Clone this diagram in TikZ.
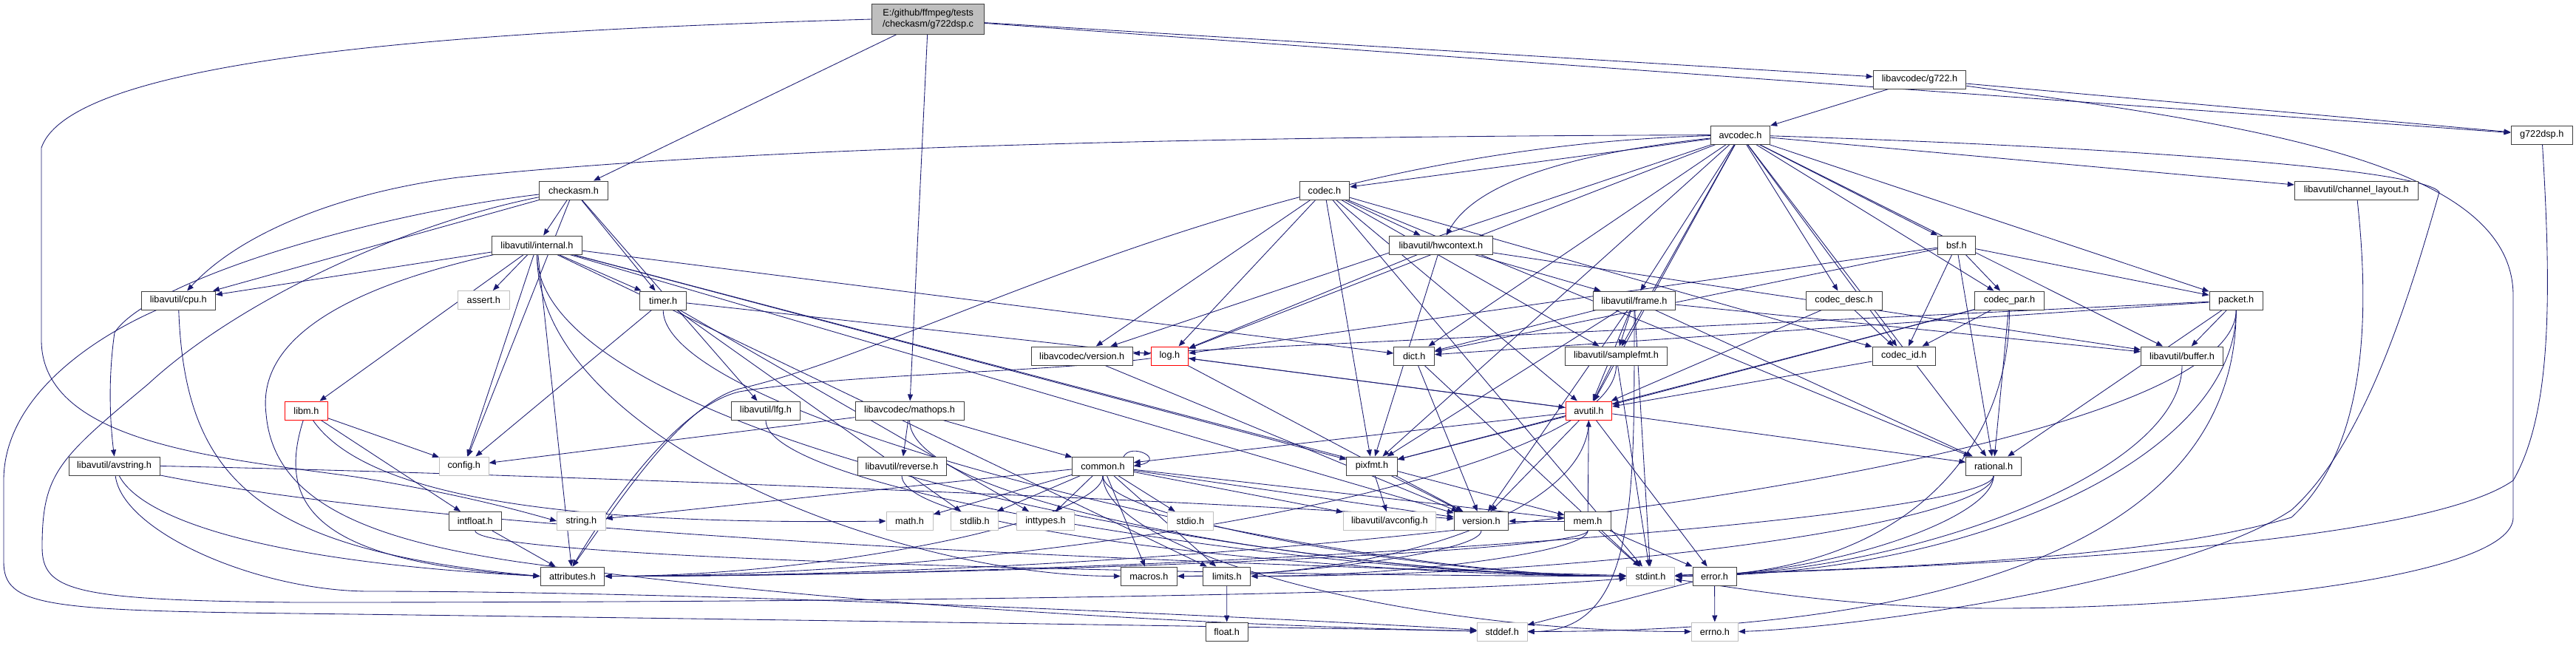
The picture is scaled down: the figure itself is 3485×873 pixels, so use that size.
\documentclass[tikz,border=0pt]{standalone}
\usepackage{fontspec}
\setmainfont{Liberation Sans}
\usetikzlibrary{arrows.meta,calc}
\definecolor{edgec}{HTML}{191970}
\definecolor{nodeborder}{HTML}{404040}
\definecolor{graybord}{HTML}{BFBFBF}
\definecolor{mainfill}{HTML}{BFBFBF}
\newcommand\nodefont{\fontsize{12.7bp}{15bp}\selectfont}
% edge entering target from the left / right, nearly horizontal
\newcommand\eL[4]{\draw[e] (#1) .. controls ($(#1.south)+(0,#3)$) and ($(#2.west)+(-#4,0)$) .. (#2.west);}
\newcommand\eR[4]{\draw[e] (#1) .. controls ($(#1.south)+(0,#3)$) and ($(#2.east)+(#4,0)$) .. (#2.east);}
\pgfdeclarelayer{bgl}
\pgfdeclarelayer{edges}
\pgfsetlayers{bgl,edges,main}
\begin{document}
\begin{tikzpicture}[x=1bp,y=-1bp,
  nb/.style={draw=nodeborder, line width=1bp, fill=white, inner sep=0pt, minimum height=25bp, font=\nodefont, text=black},
  gb/.style={nb, draw=graybord},
  rb/.style={nb, draw=red},
  e/.style={draw=edgec, line width=0.85bp, -{Triangle[length=9bp,width=7bp]}}]
\begin{pgfonlayer}{bgl}
\fill[white] (0,0) rectangle (3485,873);
\end{pgfonlayer}
\useasboundingbox (0,0) rectangle (3485,873);
% nodes
\node[nb, fill=mainfill, minimum width=151.5bp, minimum height=40bp, align=center] (main) at (1255.6,26) {E:/github/ffmpeg/tests\\/checkasm/g722dsp.c};
\node[nb, minimum width=93.4bp] (checkasm) at (776,257.5) {checkasm.h};
\node[nb, minimum width=121.7bp] (internal) at (726.5,331.5) {libavutil/internal.h};
\node[gb, minimum width=69.7bp] (assert) at (654.3,406) {assert.h};
\node[nb, minimum width=62.8bp] (timer) at (897.2,406.5) {timer.h};
\node[nb, minimum width=99.9bp] (cpu) at (241.3,406.5) {libavutil/cpu.h};
\node[nb, minimum width=67.7bp] (codec) at (1791.9,257.5) {codec.h};
\node[nb, minimum width=139.3bp] (hwctx) at (1949.4,331.5) {libavutil/hwcontext.h};
\node[nb, minimum width=110.6bp] (frame) at (2210.9,406.5) {libavutil/frame.h};
\node[nb, minimum width=80.2bp] (avcodec) at (2354.5,182.5) {avcodec.h};
\node[nb, minimum width=125.5bp] (gsv) at (2597,107.5) {libavcodec/g722.h};
\node[nb, minimum width=50.5bp] (bsf) at (2646.8,331.5) {bsf.h};
\node[nb, minimum width=103bp] (cdesc) at (2494.6,406.5) {codec\_desc.h};
\node[nb, minimum width=93.7bp] (cpar) at (2718.5,406.5) {codec\_par.h};
\node[nb, minimum width=83.4bp] (gdsp) at (3438.7,182.5) {g722dsp.h};
\node[nb, minimum width=166.8bp] (chlayout) at (3187.7,257.5) {libavutil/channel\_layout.h};
\node[nb, minimum width=72.3bp] (packet) at (3025.2,406.5) {packet.h};
\node[nb, minimum width=111bp] (buffer) at (2952,481.5) {libavutil/buffer.h};
\node[nb, minimum width=123.2bp] (avstring) at (154.6,630.5) {libavutil/avstring.h};
\node[rb, minimum width=57.4bp] (libm) at (414.4,555.5) {libm.h};
\node[gb, minimum width=66.6bp] (config) at (627.8,630.5) {config.h};
\node[nb, minimum width=71.1bp] (intfloat) at (642.8,705) {intfloat.h};
\node[gb, minimum width=65.5bp] (string) at (786.4,705) {string.h};
\node[nb, minimum width=86.9bp] (attributes) at (774.5,779.5) {attributes.h};
\node[nb, minimum width=92.2bp] (lfg) at (1035.9,555.5) {libavutil/lfg.h};
\node[nb, minimum width=147bp] (mathops) at (1230.5,555.5) {libavcodec/mathops.h};
\node[nb, minimum width=120bp] (reverse) at (1220,630.5) {libavutil/reverse.h};
\node[nb, minimum width=137.3bp] (lcver) at (1463.7,481.5) {libavcodec/version.h};
\node[rb, minimum width=50.5bp] (log) at (1582.4,481.5) {log.h};
\node[nb, minimum width=82.3bp] (common) at (1492,630.5) {common.h};
\node[gb, minimum width=63.2bp] (math) at (1230.6,705) {math.h};
\node[gb, minimum width=64.3bp] (stdlib) at (1318.5,705) {stdlib.h};
\node[gb, minimum width=78.9bp] (inttypes) at (1414.5,705) {inttypes.h};
\node[gb, minimum width=61.2bp] (stdio) at (1610.4,705) {stdio.h};
\node[nb, minimum width=76.1bp] (macros) at (1554.4,779.5) {macros.h};
\node[nb, minimum width=64.3bp] (limits) at (1659.8,779.5) {limits.h};
\node[nb, minimum width=57.4bp] (float) at (1659.7,854.5) {float.h};
\node[nb, minimum width=54.7bp] (dict) at (1913.2,481.5) {dict.h};
\node[nb, minimum width=138.5bp] (samplefmt) at (2186.5,481.5) {libavutil/samplefmt.h};
\node[rb, minimum width=62.8bp] (avutil) at (2149.4,555.5) {avutil.h};
\node[nb, minimum width=68.1bp] (pixfmt) at (1856,630.5) {pixfmt.h};
\node[gb, minimum width=125.1bp] (avconfig) at (1879.9,705) {libavutil/avconfig.h};
\node[nb, minimum width=73.5bp] (version) at (2004,705) {version.h};
\node[nb, minimum width=62.4bp] (mem) at (2148.1,705) {mem.h};
\node[gb, minimum width=65.5bp] (stdint) at (2233,779.5) {stdint.h};
\node[nb, minimum width=59bp] (error) at (2319.5,779.5) {error.h};
\node[gb, minimum width=67.7bp] (stddef) at (2032.2,854.5) {stddef.h};
\node[gb, minimum width=63bp] (errno) at (2319.9,854.5) {errno.h};
\node[nb, minimum width=85.3bp] (codecid) at (2575.8,481.5) {codec\_id.h};
\node[nb, minimum width=74.6bp] (rational) at (2697.1,630.5) {rational.h};
% edges
\begin{pgfonlayer}{edges}
\foreach \s/\t in {main/checkasm, main/gsv, main/gdsp, main/mathops,
  checkasm/internal, checkasm/timer, checkasm/cpu, checkasm/config, checkasm/lfg,
  gsv/avcodec, gsv/gdsp,
  avcodec/samplefmt, avcodec/avutil, avcodec/buffer, avcodec/chlayout, avcodec/dict, avcodec/frame, avcodec/log, avcodec/pixfmt, avcodec/rational, avcodec/bsf, avcodec/codec, avcodec/cdesc, avcodec/cpar, avcodec/codecid, avcodec/packet, avcodec/lcver,
  internal/limits, internal/assert, internal/config, internal/attributes, internal/timer, internal/cpu, internal/dict, internal/mem, internal/pixfmt, internal/version, internal/libm,
  timer/config, timer/stdlib, timer/inttypes, timer/log,
  lcver/version, log/avutil, log/version,
  dict/stdint, dict/version,
  samplefmt/stdint, samplefmt/avutil,
  avutil/common, avutil/error, avutil/rational, avutil/version, avutil/log, avutil/pixfmt,
  pixfmt/avconfig, pixfmt/version,
  common/inttypes, common/limits, common/math, common/stdio, common/stdlib, common/string, common/macros, common/version, common/avconfig, common/mem,
  mem/stdint, mem/error, mem/avutil, mem/version,
  error/errno, error/stddef, limits/float,
  mathops/common, mathops/reverse, mathops/config,
  intfloat/attributes,
  libm/config, libm/intfloat,
  codec/stdint, codec/avutil, codec/hwctx, codec/log, codec/pixfmt, codec/rational, codec/samplefmt, codec/codecid, codec/lcver,
  hwctx/buffer, hwctx/frame, hwctx/log, hwctx/pixfmt,
  frame/stdint, frame/avutil, frame/buffer, frame/dict, frame/rational, frame/samplefmt, frame/pixfmt, frame/version,
  bsf/dict, bsf/log, bsf/rational, bsf/codecid, bsf/cpar, bsf/packet,
  cdesc/avutil, cdesc/codecid,
  cpar/avutil, cpar/rational, cpar/pixfmt, cpar/codecid,
  packet/buffer, packet/dict, packet/rational, packet/lcver,
  codecid/avutil}
  {\draw[e] (\s) -- (\t);}
% bundles entering from the left
\eL{timer}{stdint}{150}{400}
\eL{lfg}{stdint}{100}{400}
\eL{reverse}{stdint}{80}{350}
\eL{mathops}{stdint}{120}{350}
\eL{intfloat}{stdint}{40}{500}
\eL{common}{stdint}{60}{250}
\eL{internal}{stdint}{250}{500}
\eL{internal}{macros}{250}{300}
\eL{common}{errno}{100}{400}
% bundles entering from the right
\eR{samplefmt}{attributes}{150}{600}
\eR{rational}{attributes}{60}{800}
\eR{mem}{attributes}{30}{500}
\eR{packet}{attributes}{200}{1000}
\eR{common}{attributes}{60}{300}
\eR{rational}{stdint}{60}{200}
\eR{cpar}{stdint}{200}{300}
\eR{packet}{stdint}{200}{400}
\eR{buffer}{stdint}{150}{300}
\eR{frame}{stddef}{250}{150}
\eR{packet}{stddef}{300}{600}
\eR{avutil}{macros}{120}{300}
\eR{version}{macros}{30}{150}
\eR{rational}{limits}{60}{500}
\eR{mem}{limits}{30}{200}
% routed edges
\draw[e] (avcodec) .. controls (2150,205) and (2000,240) .. (hwctx);
\draw[e] (avcodec) .. controls (1500,185) and (950,205) .. (620,240) .. controls (450,262) and (320,320) .. (cpu);
\draw[e] (avcodec) .. controls (1700,200) and (1250,470) .. (1000,526) .. controls (920,548) and (830,690) .. (attributes.north);
\draw[e] (log) .. controls (1400,505) and (1150,505) .. (1000,530) .. controls (915,550) and (820,690) .. (attributes.north);
\draw[e] (main.west) .. controls (700,40) and (100,70) .. (56,200) -- (56,460) .. controls (56,600) and (300,620) .. (480,645) .. controls (620,668) and (700,690) .. (string.west);
\draw[e] (checkasm) .. controls (500,290) and (200,380) .. (155,450) .. controls (145,520) and (150,580) .. (avstring.north);
\draw[e] (checkasm) .. controls (560,300) and (330,400) .. (200,520) .. controls (80,620) and (57,640) .. (57,740) .. controls (57,800) and (100,812) .. (400,815) .. controls (1400,815) and (2000,800) .. (stdint);
\draw[e] (cpu) .. controls (120,460) and (5,540) .. (5,650) -- (5,760) .. controls (5,820) and (60,826) .. (400,830) .. controls (1200,840) and (1800,850) .. (stddef);
\draw[e] (cpu) .. controls (250,650) and (350,745) .. (attributes.west);
\draw[e] (internal) .. controls (420,400) and (350,480) .. (360,560) .. controls (370,680) and (500,730) .. (700,760) .. controls (1200,830) and (1800,850) .. (stddef);
\draw[e] (avstring) .. controls (165,720) and (350,800) .. (500,800) .. controls (1000,800) and (1800,840) .. (stddef);
\draw[e] (avstring) .. controls (190,700) and (350,760) .. (attributes.west);
\draw[e] (avstring) .. controls (600,720) and (1500,760) .. (stdint);
\draw[e] (avstring.east) .. controls (700,640) and (1700,680) .. (version);
\draw[e] (libm) .. controls (375,680) and (420,760) .. (attributes.west);
\draw[e] (libm) .. controls (500,680) and (800,710) .. (math.west);
\draw[e] (avcodec) .. controls (2900,200) and (3280,230) .. (3300,260) .. controls (3260,400) and (3200,600) .. (3100,690) .. controls (2950,790) and (2500,850) .. (errno.east);
\draw[e] (gsv) .. controls (3050,170) and (3400,220) .. (3400,400) -- (3400,700) .. controls (3400,780) and (3000,823) .. (2700,823) .. controls (2500,823) and (2350,795) .. (stdint);
\draw[e] (gdsp) .. controls (3452,400) and (3452,560) .. (3400,650) .. controls (3300,720) and (2900,760) .. (stdint);
\draw[e] (chlayout) .. controls (3203,400) and (3210,600) .. (3100,700) .. controls (2900,760) and (2500,770) .. (stdint);
\draw[e] (1520,618) .. controls (1530,598) and (1578,622) .. (common.east);
\end{pgfonlayer}
\end{tikzpicture}
\end{document}
